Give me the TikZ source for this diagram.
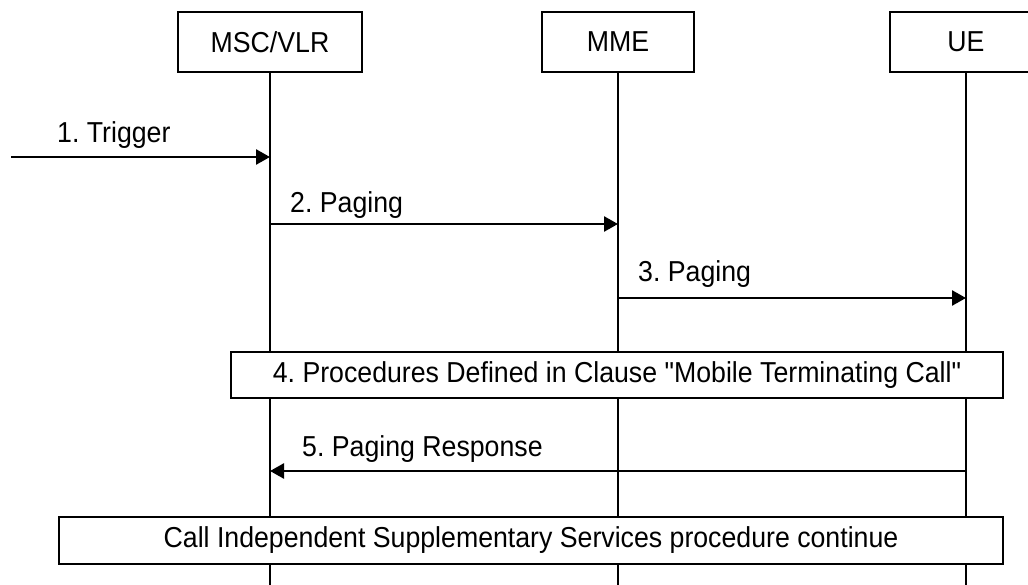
\documentclass[tikz,border=0pt]{standalone}
\usepackage{graphicx}
\usepackage{fontspec}
\setmainfont{Liberation Sans}[Ligatures=TeXOff]
\usetikzlibrary{arrows.meta}
\newcommand{\tx}[1]{\scalebox{1}[1.08]{#1}}
\begin{document}
\frenchspacing
\begin{tikzpicture}[x=1pt,y=-1pt,
  entity/.style={draw,line width=2pt,fill=white,minimum height=60pt,inner sep=0pt,font=\fontsize{26.7}{30}\selectfont},
  lifeline/.style={line width=2pt},
  msg/.style={line width=2.6pt,-{Triangle[length=14pt,width=15pt]}},
  lbl/.style={anchor=base west,inner sep=0pt,font=\fontsize{26.7}{30}\selectfont},
  procbox/.style={draw,line width=2pt,fill=white,inner sep=0pt,font=\fontsize{26.7}{30}\selectfont}]
\useasboundingbox (0,0) rectangle (1028,585);
\node[entity,minimum width=184pt] (msc) at (270,42) {\tx{MSC/VLR}};
\node[entity,minimum width=152pt] (mme) at (618,42) {\tx{MME}};
\node[entity,minimum width=152pt] (ue) at (966,42) {\tx{UE}};
\coordinate (mscend) at (270,590);
\coordinate (mmeend) at (618,590);
\coordinate (ueend) at (966,590);
\draw[lifeline] (msc.south) -- (mscend);
\draw[lifeline] (mme.south) -- (mmeend);
\draw[lifeline] (ue.south) -- (ueend);
% 1
\coordinate (trigsrc) at (11,157);
\coordinate (m1) at (270,157);
\draw[msg] (trigsrc) -- (m1);
\node[lbl] (l1) at (57,143) {\tx{1. Trigger}};
% 2
\coordinate (m2a) at (270,224);
\coordinate (m2b) at (618,224);
\draw[msg] (m2a) -- (m2b);
\node[lbl] (l2) at (290,213) {\tx{2. Paging}};
% 3
\coordinate (m3a) at (618,298);
\coordinate (m3b) at (966,298);
\draw[msg] (m3a) -- (m3b);
\node[lbl] (l3) at (638,282) {\tx{3. Paging}};
% 4
\node[procbox,minimum width=772pt,minimum height=46pt] (p4) at (617,375) {\tx{4. Procedures Defined in Clause "Mobile Terminating Call"}};
% 5
\coordinate (m5a) at (966,471);
\coordinate (m5b) at (270,471);
\draw[msg] (m5a) -- (m5b);
\node[lbl] (l5) at (302,456) {\tx{5. Paging Response}};
% 6
\node[procbox,minimum width=944pt,minimum height=47pt] (p6) at (531,540) {\tx{Call Independent Supplementary Services procedure continue}};
\end{tikzpicture}
\end{document}
